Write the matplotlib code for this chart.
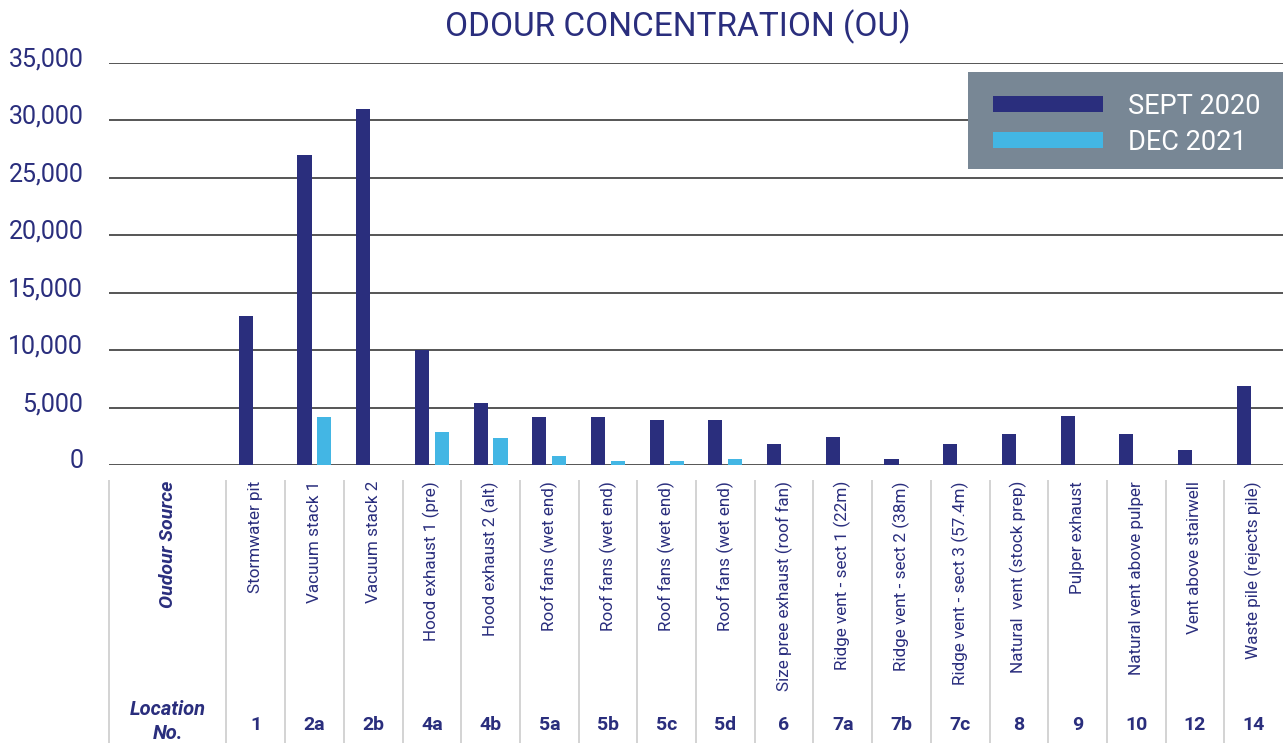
import matplotlib
matplotlib.use("Agg")
import matplotlib.pyplot as plt
import matplotlib.transforms as mtransforms
from matplotlib.patches import Rectangle
import numpy as np

plt.rcParams['font.family'] = ['Roboto', 'DejaVu Sans']

# data
sources = ["Stormwater pit", "Vacuum stack 1", "Vacuum stack 2", "Hood exhaust 1 (pre)",
           "Hood exhaust 2 (alt)", "Roof fans (wet end)", "Roof fans (wet end)",
           "Roof fans (wet end)", "Roof fans (wet end)", "Size pree exhaust (roof fan)",
           "Ridge vent - sect 1 (22m)", "Ridge vent - sect 2 (38m)",
           "Ridge vent - sect 3 (57.4m)", "Natural  vent (stock prep)", "Pulper exhaust",
           "Natural vent above pulper", "Vent above stairwell", "Waste pile (rejects pile)"]
locations = ["1", "2a", "2b", "4a", "4b", "5a", "5b", "5c", "5d", "6",
             "7a", "7b", "7c", "8", "9", "10", "12", "14"]
sept_2020 = [13000, 27000, 31000, 10000, 5400, 4200, 4200, 3900, 3900, 1800,
             2400, 500, 1800, 2700, 4300, 2700, 1300, 6900]
dec_2021 = [0, 4200, 0, 2900, 2350, 800, 350, 350, 550, 0,
            0, 0, 0, 0, 0, 0, 0, 0]
yticks = [0, 5000, 10000, 15000, 20000, 25000, 30000, 35000]

navy = '#2a2e7d'
light = '#43b6e4'

fig = plt.figure(figsize=(12.83, 7.43), dpi=100)
ax = fig.add_axes([109 / 1283, 1 - 465 / 743, 1 - 109 / 1283, 402 / 743])

# first column (2 units wide) holds the row headers
x = np.arange(len(sources)) + 2.5
w = 0.24
ax.bar(x - 0.17, sept_2020, w, color=navy, label='SEPT 2020', zorder=3)
ax.bar(x + 0.17, dec_2021, w, color=light, label='DEC 2021', zorder=3)

ax.set_xlim(0, len(sources) + 2)
ax.set_ylim(0, 35000)
ax.set_yticks(yticks)
ax.set_yticklabels([f"{v:,}" for v in yticks])
ax.set_xticks([])
ax.grid(axis='y', color='#555555', linewidth=1.4, zorder=0)
ax.tick_params(axis='y', length=0, pad=18.5, labelsize=18, labelcolor=navy)
for lab in ax.get_yticklabels():
    lab.set_transform(lab.get_transform() +
                      mtransforms.ScaledTranslation(0, 6 / 100, fig.dpi_scale_trans))
for s in ax.spines.values():
    s.set_visible(False)

# table below the chart
tr = ax.get_xaxis_transform()
seps = [0] + list(range(2, len(sources) + 2))
ax.vlines(seps, -0.037, -0.7, transform=tr, colors='#cccccc', linewidth=1.2, clip_on=False)
for xi, name, loc in zip(x, sources, locations):
    ax.text(xi, -0.04, name, transform=tr, rotation=90, ha='center', va='top',
            fontsize=12.3, color=navy)
    ax.text(xi, -0.647, loc, transform=tr, ha='center', va='center',
            fontsize=14, fontweight='bold', color=navy)
ax.text(1, -0.04, "Oudour Source", transform=tr, rotation=90, ha='center', va='top',
        fontsize=14, fontweight='bold', fontstyle='italic', color=navy)
ax.text(1, -0.609, "Location", transform=tr, ha='center', va='center',
        fontsize=14.5, fontweight='bold', fontstyle='italic', color=navy)
ax.text(1, -0.667, "No.", transform=tr, ha='center', va='center',
        fontsize=14.5, fontweight='bold', fontstyle='italic', color=navy)

# legend: grey box drawn separately, legend itself without frame
ax.add_patch(Rectangle((0.7317, 0.7363), 1 - 0.7317, 0.9776 - 0.7363, transform=ax.transAxes,
                       facecolor='#788795', edgecolor='none', zorder=4, clip_on=False))
leg = ax.legend(loc='upper left', bbox_to_anchor=(0.753, 0.926), borderaxespad=0,
                frameon=False, fontsize=19.5, handlelength=4.05, handleheight=0.52,
                handletextpad=0.92, borderpad=0, labelspacing=0.33)
leg.set_zorder(5)
for t in leg.get_texts():
    t.set_color('white')

fig.text(678 / 1283, 1 - 27 / 743, "ODOUR CONCENTRATION (OU)", ha='center', va='center',
         fontsize=24, color=navy)

fig.savefig("out.png", dpi=100)
